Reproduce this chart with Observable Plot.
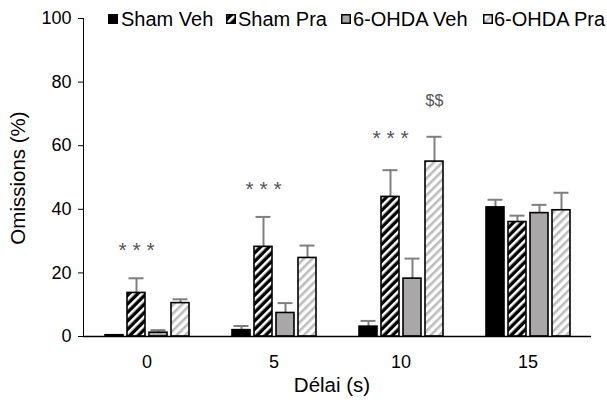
<!DOCTYPE html>
<html><head><meta charset="utf-8">
<script src="https://cdn.jsdelivr.net/npm/d3@7"></script>
<script src="https://cdn.jsdelivr.net/npm/@observablehq/plot@0.6"></script>
<style>
body{margin:0;background:#fff;font-family:"Liberation Sans",Arial,sans-serif;}
#wrap{position:relative;width:607px;height:408px;overflow:hidden;}
#wrap svg.chart{position:absolute;left:0;top:0;}
.leg{position:absolute;top:8px;font-size:20px;line-height:22px;color:#000;white-space:nowrap;}
.sw{position:absolute;top:14px;}
.title{position:absolute;font-size:20.5px;color:#000;white-space:nowrap;}
</style></head><body><div id="wrap"></div><script>
// ---- data ----
const delays = [0, 5, 10, 15];
const groups = ["Sham Veh", "Sham Pra", "6-OHDA Veh", "6-OHDA Pra"];
const shamVeh    = [0.4, 2.0, 3.1, 40.6];
const shamVehErr = [0, 1.3, 1.8, 2.4];
const shamPra    = [13.7, 28.2, 43.9, 36.0];
const shamPraErr = [4.6, 9.4, 8.4, 2.0];
const ohdaVeh    = [1.2, 7.4, 18.2, 38.8];
const ohdaVehErr = [0.8, 3.1, 6.3, 2.6];
const ohdaPra    = [10.5, 24.7, 55.0, 39.7];
const ohdaPraErr = [1.2, 3.9, 7.8, 5.5];
const starDelays = [0, 5, 10];
const starGroup = "Sham Pra";
const starY = [28.8, 48.0, 63.8];
const starText = "* * *";
const dollarDelays = [10];
const dollarGroup = "6-OHDA Pra";
const dollarY = [74.2];
const dollarText = "$$";
const yTicks = [0, 20, 40, 60, 80, 100];
const yLabel = "Omissions (%)";
const xLabel = "Délai (s)";

// ---- build table ----
const values = [shamVeh, shamPra, ohdaVeh, ohdaPra];
const errs = [shamVehErr, shamPraErr, ohdaVehErr, ohdaPraErr];
const rows = [];
groups.forEach((g, i) => delays.forEach((d, j) => rows.push({group: g, delay: d, value: values[i][j], err: errs[i][j]})));
const stars = starDelays.map((d, i) => ({delay: d, group: starGroup, y: starY[i]}));
const dollars = dollarDelays.map((d, i) => ({delay: d, group: dollarGroup, y: dollarY[i]}));

const fills = ["#000000", "url(#hatchSham)", "#a9a7a7", "url(#hatchOhda)"];
const errColor = "#7f7f7f";

const chart = Plot.plot({
  width: 607, height: 408,
  marginLeft: 82, marginRight: 15, marginTop: 18, marginBottom: 72,
  style: {fontFamily: "'Liberation Sans', Arial, sans-serif", fontSize: "18px", color: "#000", background: "transparent"},
  fx: {domain: delays, padding: 0, label: null, tickSize: 0, tickPadding: 19, axis: "bottom"},
  x: {domain: groups, paddingInner: 0.2, paddingOuter: 0.87, axis: null},
  y: {domain: [0, 100], ticks: yTicks, tickSize: 5, tickPadding: 7, label: null, line: true},
  marks: [
    Plot.ruleX(rows.filter(d => d.err > 0), {fx: "delay", x: "group", y1: "value", y2: d => d.value + d.err, stroke: errColor, strokeWidth: 2}),
    Plot.tickY(rows.filter(d => d.err > 0), {fx: "delay", x: "group", y: d => d.value + d.err, stroke: errColor, strokeWidth: 2, insetLeft: 1.5, insetRight: 1.5}),
    ...groups.map((g, i) => Plot.barY(rows.filter(d => d.group === g), {fx: "delay", x: "group", y: "value", fill: fills[i], stroke: "#000", strokeWidth: 1.6})),
    Plot.ruleY([0], {stroke: "#000", strokeWidth: 1.6}),
    Plot.text(stars, {fx: "delay", x: "group", y: "y", text: () => starText, fill: "#555", fontSize: 21, dy: 5}),
    Plot.text(dollars, {fx: "delay", x: "group", y: "y", text: () => dollarText, fill: "#555", fontSize: 16})
  ]
});
chart.classList.add("chart");
const ns = "http://www.w3.org/2000/svg";
const defs = document.createElementNS(ns, "defs");
defs.innerHTML = `
<pattern id="hatchSham" patternUnits="userSpaceOnUse" width="6" height="6" patternTransform="rotate(45)">
  <rect width="6" height="6" fill="#000"/><rect x="0" width="2.6" height="6" fill="#fff"/>
</pattern>
<pattern id="hatchOhda" patternUnits="userSpaceOnUse" width="6" height="6" patternTransform="rotate(45)">
  <rect width="6" height="6" fill="#fff"/><rect x="0" width="2.6" height="6" fill="#bdbdbd"/>
</pattern>`;
chart.prepend(defs);
const wrap = document.getElementById("wrap");
wrap.appendChild(chart);

// legend
const legPos = [[108, 121], [226, 238], [341, 353], [483, 494]];
groups.forEach((g, i) => {
  const sw = document.createElementNS(ns, "svg");
  sw.setAttribute("width", 10); sw.setAttribute("height", 10);
  sw.setAttribute("class", "sw");
  sw.style.left = legPos[i][0] + "px";
  sw.innerHTML = `<rect x="0.75" y="0.75" width="8.5" height="8.5" fill="${fills[i]}" stroke="#000" stroke-width="1.5"/>`;
  wrap.appendChild(sw);
  const t = document.createElement("div");
  t.className = "leg"; t.textContent = g; t.style.left = legPos[i][1] + "px";
  wrap.appendChild(t);
});
// axis titles
const yt = document.createElement("div");
yt.className = "title"; yt.textContent = yLabel;
yt.style.left = "18px"; yt.style.top = "178px";
yt.style.transform = "translate(-50%,-50%) rotate(-90deg)";
wrap.appendChild(yt);
const xt = document.createElement("div");
xt.className = "title"; xt.textContent = xLabel;
xt.style.left = "332px"; xt.style.top = "385px";
xt.style.transform = "translate(-50%,-50%)";
wrap.appendChild(xt);
</script></body></html>
